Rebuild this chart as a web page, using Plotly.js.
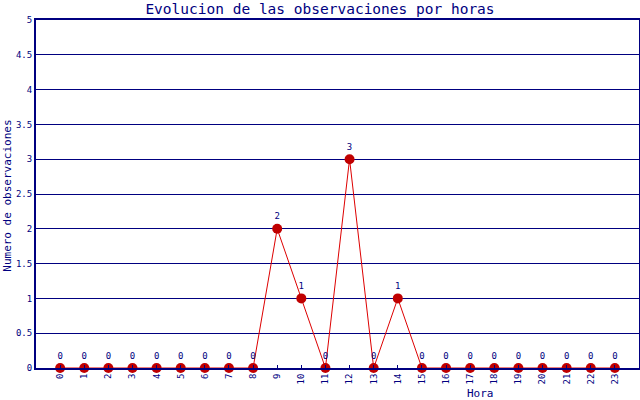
<!DOCTYPE html>
<html>
<head>
<meta charset="utf-8">
<script src="https://cdn.plot.ly/plotly-3.0.1.min.js"></script>
<style>html,body{margin:0;padding:0;background:#fff;}#chart{width:640px;height:400px;}</style>
</head>
<body>
<div id="chart"></div>
<script>
const hours = [0,1,2,3,4,5,6,7,8,9,10,11,12,13,14,15,16,17,18,19,20,21,22,23];
const observaciones = [0,0,0,0,0,0,0,0,0,2,1,0,3,0,1,0,0,0,0,0,0,0,0,0];
const yTicks = [0,0.5,1,1.5,2,2.5,3,3.5,4,4.5,5];
const titleText = 'Evolucion de las observaciones por horas';
const xTitle = 'Hora';
const yTitle = 'Numero de observaciones';

const navy = '#000080';
const font = 'DejaVu Sans Mono, monospace';

Plotly.newPlot('chart', [{
  x: hours,
  y: observaciones,
  type: 'scatter',
  mode: 'lines+markers+text',
  text: observaciones.map(String),
  textposition: 'top center',
  textfont: {family: font, size: 9, color: navy},
  line: {color: '#dd0000', width: 1},
  marker: {color: '#c00000', size: 10},
  cliponaxis: false,
  hoverinfo: 'none'
}], {
  width: 640, height: 400,
  margin: {l: 36, r: 1, t: 20, b: 32},
  paper_bgcolor: '#fff', plot_bgcolor: '#fff',
  showlegend: false,
  title: {text: titleText, font: {family: font, size: 14.5, color: navy}, x: 0.5, xanchor: 'center', y: 0.977, yanchor: 'middle'},
  xaxis: {
    range: [-1, 24], tickvals: hours, ticktext: hours.map(String), tickangle: -90,
    tickfont: {family: font, size: 9, color: navy},
    showgrid: false, zeroline: false, showline: true, linecolor: navy, linewidth: 2, mirror: true,
    ticks: 'inside', ticklen: 3, tickcolor: navy
  },
  yaxis: {
    range: [0, 5], tickvals: yTicks, ticktext: yTicks.map(String),
    tickfont: {family: font, size: 9, color: navy},
    showgrid: true, gridcolor: navy, gridwidth: 1, zeroline: false,
    showline: true, linecolor: navy, linewidth: 2, mirror: true, ticks: ''
  },
  annotations: [
    {text: xTitle, xref: 'paper', yref: 'paper', x: 0.737, y: 0, yshift: -25, xanchor: 'center', yanchor: 'middle', showarrow: false, font: {family: font, size: 11, color: navy}},
    {text: yTitle, xref: 'paper', yref: 'paper', x: 0, xshift: -28, y: 0.495, textangle: -90, xanchor: 'center', yanchor: 'middle', showarrow: false, font: {family: font, size: 11, color: navy}}
  ]
}, {staticPlot: true});
</script>
</body>
</html>
